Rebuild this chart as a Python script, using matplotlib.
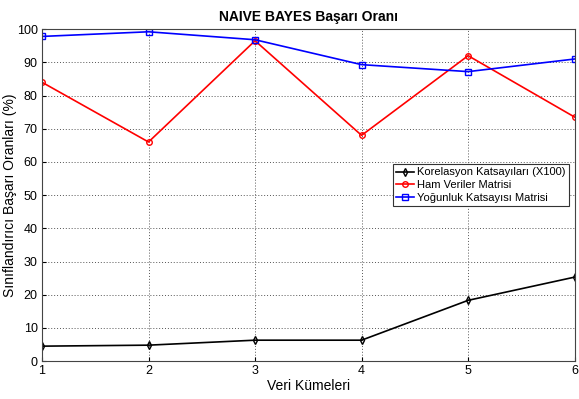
import numpy as np
import matplotlib.pyplot as plt

plt.rcParams['font.family'] = ['Liberation Sans', 'DejaVu Sans']

veri_kumeleri = [1, 2, 3, 4, 5, 6]
korelasyon = [4.5, 4.8, 6.3, 6.3, 18.3, 25.3]
ham_veriler = [84.0, 66.0, 96.5, 68.0, 92.0, 73.5]
yogunluk = [97.8, 99.2, 96.8, 89.3, 87.2, 91.0]

fig = plt.figure(figsize=(5.79, 3.99), dpi=100)
ax = fig.add_axes([0.0725, 0.095, 0.920, 0.832])

ax.plot(veri_kumeleri, korelasyon, color='black', marker='d', markersize=4,
        markerfacecolor='none', linewidth=1.2, label='Korelasyon Katsayıları (X100)')
ax.plot(veri_kumeleri, ham_veriler, color='red', marker='o', markersize=4,
        markerfacecolor='none', linewidth=1.2, label='Ham Veriler Matrisi')
ax.plot(veri_kumeleri, yogunluk, color='blue', marker='s', markersize=4,
        markerfacecolor='none', linewidth=1.2, label='Yoğunluk Katsayısı Matrisi')

ax.set_xlim(1, 6)
ax.set_ylim(0, 100)
ax.set_xticks(veri_kumeleri)
ax.set_yticks(np.arange(0, 101, 10))
ax.tick_params(direction='in', labelsize=9, length=3, pad=3)
ax.grid(True, linestyle=(0, (1, 2)), color='#555555', linewidth=0.7)
for s in ax.spines.values():
    s.set_color('#444444')

ax.set_title('NAIVE BAYES Başarı Oranı', fontsize=10, fontweight='bold')
ax.set_xlabel('Veri Kümeleri', fontsize=10, labelpad=1)
ax.set_ylabel('Sınıflandırıcı Başarı Oranları (%)', fontsize=10, labelpad=0)

leg = ax.legend(loc='upper right', bbox_to_anchor=(1.0, 0.61), fontsize=8,
                fancybox=False, framealpha=1, edgecolor='#333333',
                handlelength=1.6, borderpad=0.3, labelspacing=0.25, handletextpad=0.3)
leg.get_frame().set_linewidth(0.8)

fig.savefig('out.png', dpi=100)
